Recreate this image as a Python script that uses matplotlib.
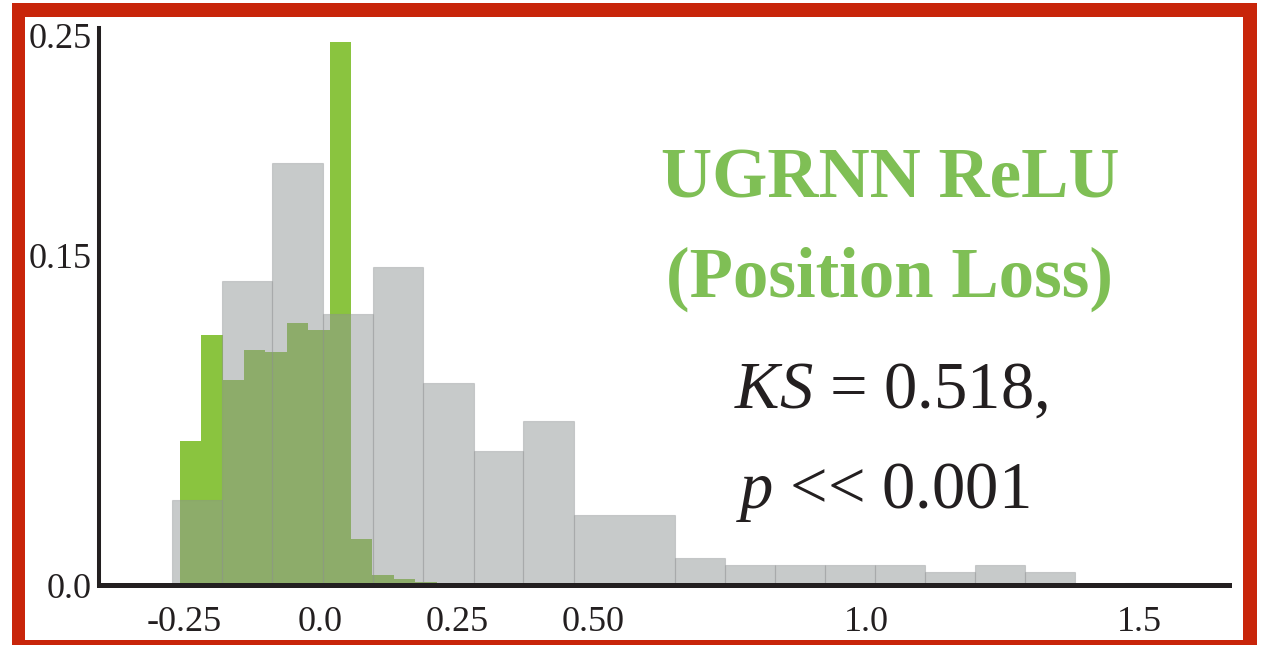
import numpy as np
import matplotlib
matplotlib.use("Agg")
from matplotlib import pyplot as plt
from matplotlib.patches import Rectangle

plt.rcParams['font.family'] = ['Liberation Serif', 'DejaVu Serif']
plt.rcParams['mathtext.fontset'] = 'custom'
plt.rcParams['mathtext.rm'] = 'Liberation Serif'
plt.rcParams['mathtext.it'] = 'Liberation Serif:italic'

# reference distribution (gray), one double-width bin near 0.5
gray_edges = [-0.272, -0.180, -0.089, 0.005, 0.096, 0.188, 0.281, 0.371, 0.464,
              0.649, 0.741, 0.832, 0.924, 1.016, 1.107, 1.199, 1.290, 1.382,
              1.473, 1.565]
gray_heights = [0.0386, 0.138, 0.192, 0.123, 0.1445, 0.092, 0.061, 0.0745, 0.032,
                0.0123, 0.0091, 0.0091, 0.0091, 0.0091, 0.0059, 0.0091, 0.0059,
                0.0, 0.0008]

# UGRNN ReLU (position loss) distribution (green)
green_start = -0.297
green_width = 0.0392
green_heights = [0.001, 0.0655, 0.1136, 0.093, 0.107, 0.106, 0.119, 0.116, 0.247,
                 0.021, 0.0045, 0.0027, 0.0014, 0.0, 0.001]

xticks = [-0.25, 0.0, 0.25, 0.5, 1.0, 1.5]
xticklabels = ['-0.25', '0.0', '0.25', '0.50', '1.0', '1.5']
yticks = [0.0, 0.15, 0.25]
yticklabels = ['0.0', '0.15', '0.25']

stat_line1 = r'$KS$ = 0.518,'
stat_line2 = r'$p$ << 0.001'

W, H = 1271, 645
fig = plt.figure(figsize=(W / 100, H / 100), dpi=100)
ax = fig.add_axes([99 / W, (H - 585) / H, (1229 - 99) / W, (585 - 28) / H])

green_left = green_start + green_width * np.arange(len(green_heights))
ax.bar(green_left, green_heights, width=green_width, align='edge',
       color='#8ac43f', linewidth=0, zorder=1)

ge = np.array(gray_edges)
ax.bar(ge[:-1], gray_heights, width=np.diff(ge), align='edge',
       facecolor=(0.57, 0.59, 0.59, 0.5), edgecolor=(0.55, 0.56, 0.57, 0.35),
       linewidth=0.8, zorder=2)

ax.set_xlim(-0.4057, 1.664)
ax.set_ylim(0, 0.2532)

ink = '#231f20'
for side in ['top', 'right']:
    ax.spines[side].set_visible(False)
ax.spines['left'].set_linewidth(2.9)
ax.spines['bottom'].set_linewidth(3.6)
ax.spines['left'].set_color(ink)
ax.spines['bottom'].set_color(ink)
ax.spines['bottom'].set_zorder(5)

ax.set_xticks(xticks)
ax.set_xticklabels(xticklabels)
ax.set_yticks(yticks)
ax.set_yticklabels(yticklabels)
ax.tick_params(axis='x', length=0, pad=15, labelsize=26, labelcolor=ink)
ax.tick_params(axis='y', length=0, pad=5, labelsize=26, labelcolor=ink)

# annotation block on the right
green_text = '#7fbf55'
fig.text(890 / W, (H - 197) / H, 'UGRNN ReLU', ha='center', va='baseline',
         fontsize=51, fontweight='bold', color=green_text)
fig.text(890 / W, (H - 297) / H, '(Position Loss)', ha='center', va='baseline',
         fontsize=51, fontweight='bold', color=green_text)
fig.text(891 / W, (H - 408) / H, stat_line1, ha='center', va='baseline',
         fontsize=48, color=ink)
fig.text(883 / W, (H - 508) / H, stat_line2, ha='center', va='baseline',
         fontsize=48, color=ink)

# red frame, drawn as four filled bands (pixel boxes: x0, y0 from top, x1, y1)
frame_red = '#c8250a'
for x0, y0, x1, y1 in [(12, 3, 1257, 17), (12, 640, 1257, 645),
                       (12, 3, 25, 645), (1243, 3, 1257, 645)]:
    fig.patches.append(Rectangle((x0 / W, (H - y1) / H), (x1 - x0) / W, (y1 - y0) / H,
                                 transform=fig.transFigure, facecolor=frame_red,
                                 edgecolor='none', zorder=10))

fig.savefig('out.png', dpi=100)
